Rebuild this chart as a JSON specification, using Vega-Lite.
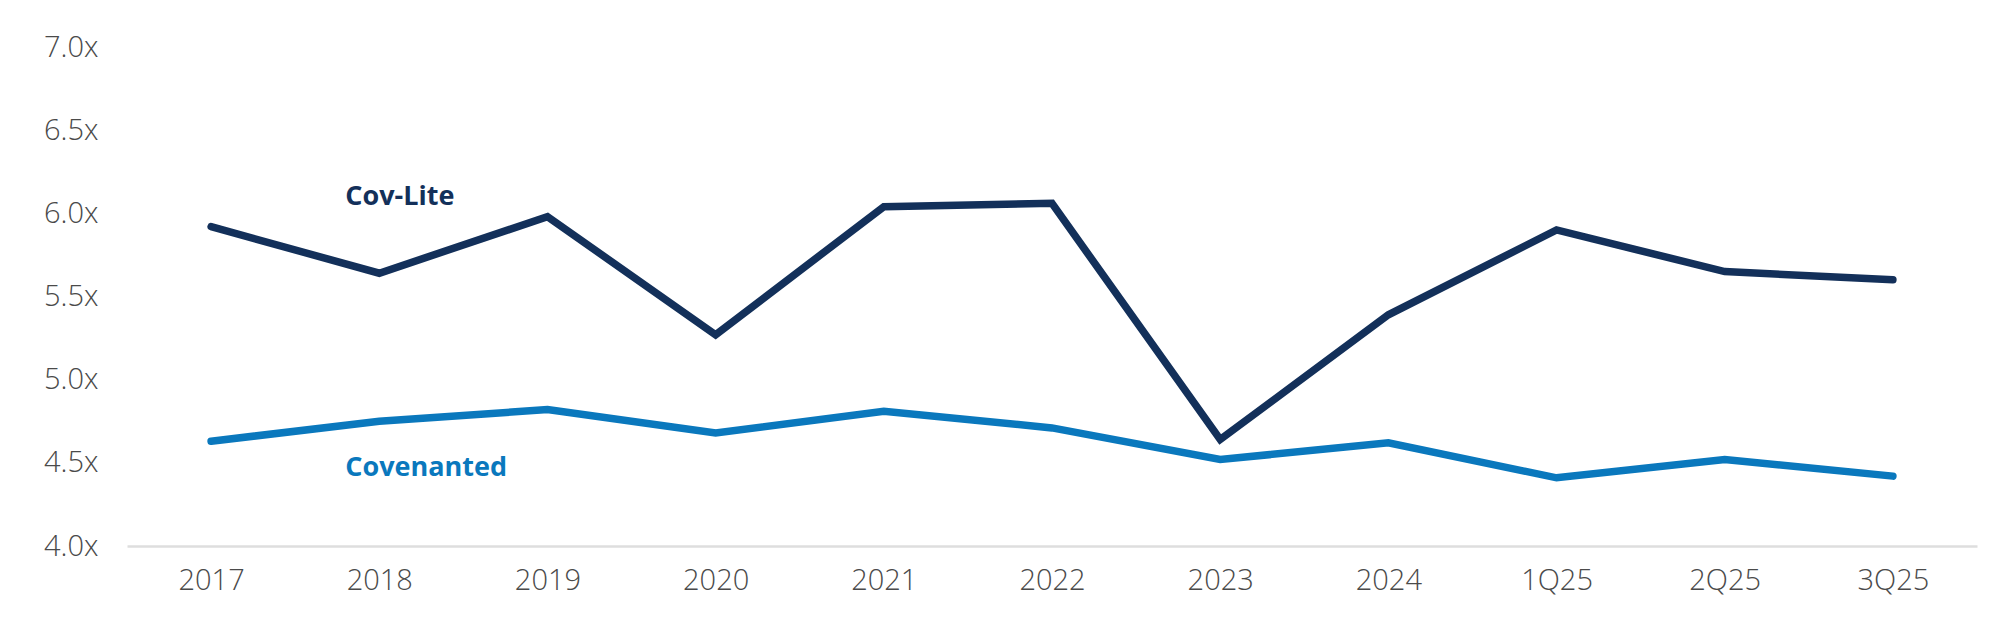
{
  "$schema": "https://vega.github.io/schema/vega-lite/v6.json",
  "description": "Cov-Lite vs Covenanted leverage multiples, 2017 to 3Q25.",
  "width": 1850,
  "height": 499,
  "autosize": {"type": "none"},
  "padding": {"left": 127, "top": 47, "right": 23, "bottom": 79},
  "background": "white",
  "datasets": {
    "lev": [
      {"period": "2017", "series": "Cov-Lite", "value": 5.92},
      {"period": "2018", "series": "Cov-Lite", "value": 5.64},
      {"period": "2019", "series": "Cov-Lite", "value": 5.98},
      {"period": "2020", "series": "Cov-Lite", "value": 5.27},
      {"period": "2021", "series": "Cov-Lite", "value": 6.04},
      {"period": "2022", "series": "Cov-Lite", "value": 6.06},
      {"period": "2023", "series": "Cov-Lite", "value": 4.64},
      {"period": "2024", "series": "Cov-Lite", "value": 5.39},
      {"period": "1Q25", "series": "Cov-Lite", "value": 5.9},
      {"period": "2Q25", "series": "Cov-Lite", "value": 5.65},
      {"period": "3Q25", "series": "Cov-Lite", "value": 5.6},
      {"period": "2017", "series": "Covenanted", "value": 4.63},
      {"period": "2018", "series": "Covenanted", "value": 4.75},
      {"period": "2019", "series": "Covenanted", "value": 4.82},
      {"period": "2020", "series": "Covenanted", "value": 4.68},
      {"period": "2021", "series": "Covenanted", "value": 4.81},
      {"period": "2022", "series": "Covenanted", "value": 4.71},
      {"period": "2023", "series": "Covenanted", "value": 4.52},
      {"period": "2024", "series": "Covenanted", "value": 4.62},
      {"period": "1Q25", "series": "Covenanted", "value": 4.41},
      {"period": "2Q25", "series": "Covenanted", "value": 4.52},
      {"period": "3Q25", "series": "Covenanted", "value": 4.42}
    ],
    "labels": [
      {"period": "2018", "series": "Cov-Lite", "value": 6.1},
      {"period": "2018", "series": "Covenanted", "value": 4.47}
    ]
  },
  "encoding": {
    "x": {
      "field": "period",
      "type": "ordinal",
      "sort": null,
      "scale": {
        "type": "point",
        "padding": 0.5,
        "domain": ["2017", "2018", "2019", "2020", "2021", "2022", "2023", "2024", "1Q25", "2Q25", "3Q25"]
      },
      "axis": {
        "title": null,
        "labelAngle": 0,
        "ticks": false,
        "domainColor": "#dedede",
        "domainWidth": 2.5,
        "labelPadding": 20,
        "labelFontSize": 29,
        "labelColor": "#4a4a4a",
        "labelFont": "Open Sans",
        "labelFontWeight": 300
      }
    },
    "y": {
      "field": "value",
      "type": "quantitative",
      "scale": {"domain": [4, 7], "nice": false, "zero": false},
      "axis": {
        "title": null,
        "values": [4, 4.5, 5, 5.5, 6, 6.5, 7],
        "labelExpr": "format(datum.value, '.1f') + 'x'",
        "grid": false,
        "domain": false,
        "ticks": false,
        "labelPadding": 29,
        "labelFontSize": 29,
        "labelColor": "#4a4a4a",
        "labelFont": "Open Sans",
        "labelFontWeight": 300
      }
    },
    "color": {
      "field": "series",
      "type": "nominal",
      "scale": {"domain": ["Cov-Lite", "Covenanted"], "range": ["#13305a", "#0a78bd"]},
      "legend": null
    }
  },
  "layer": [
    {
      "data": {"name": "lev"},
      "mark": {"type": "line", "strokeWidth": 7.5, "strokeJoin": "miter", "strokeCap": "round"}
    },
    {
      "data": {"name": "labels"},
      "mark": {"type": "text", "align": "left", "baseline": "middle", "dx": -34, "font": "Open Sans", "fontWeight": "bold", "fontSize": 27},
      "encoding": {"text": {"field": "series"}}
    }
  ],
  "config": {
    "view": {"stroke": null}
  }
}
